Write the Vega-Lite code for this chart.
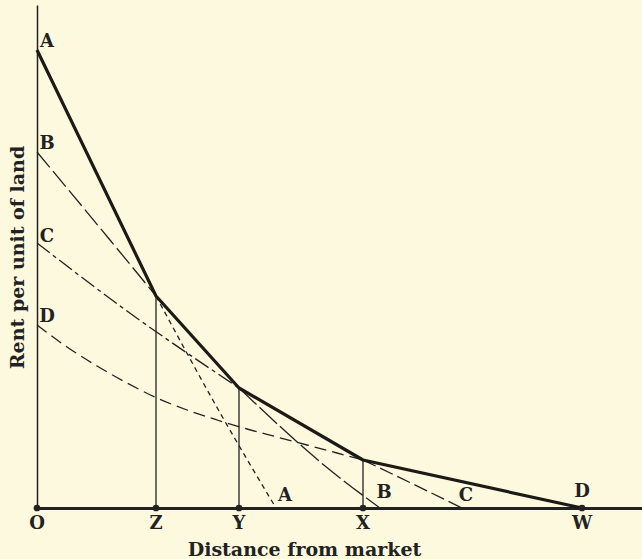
{
  "$schema": "https://vega.github.io/schema/vega-lite/v6.json",
  "width": 605,
  "height": 503,
  "autosize": {"type": "none"},
  "padding": {"left": 37, "top": 5, "right": 0, "bottom": 51},
  "background": "#fdf9de",
  "config": {"view": {"stroke": null}, "font": "DejaVu Serif"},
  "datasets": {
    "env": [
      {"x": 0, "y": 458}, {"x": 119, "y": 212}, {"x": 202, "y": 120}, {"x": 326, "y": 48}, {"x": 545, "y": 0}
    ],
    "lines": [
      {"seg": "Apost", "x": 119, "y": 212}, {"seg": "Apost", "x": 186, "y": 90}, {"seg": "Apost", "x": 239, "y": 0},
      {"seg": "Bpre", "x": 0, "y": 356}, {"seg": "Bpre", "x": 73, "y": 268}, {"seg": "Bpre", "x": 119, "y": 212},
      {"seg": "Bpost", "x": 202, "y": 120}, {"seg": "Bpost", "x": 293, "y": 38}, {"seg": "Bpost", "x": 343, "y": 0},
      {"seg": "Cpre", "x": 0, "y": 265}, {"seg": "Cpre", "x": 90, "y": 197}, {"seg": "Cpre", "x": 202, "y": 120},
      {"seg": "Cpost", "x": 326, "y": 48}, {"seg": "Cpost", "x": 376, "y": 24}, {"seg": "Cpost", "x": 425, "y": 0},
      {"seg": "Dpre", "x": 0, "y": 183}, {"seg": "Dpre", "x": 30, "y": 161}, {"seg": "Dpre", "x": 60, "y": 142},
      {"seg": "Dpre", "x": 90, "y": 125}, {"seg": "Dpre", "x": 120, "y": 110}, {"seg": "Dpre", "x": 150, "y": 98},
      {"seg": "Dpre", "x": 180, "y": 88}, {"seg": "Dpre", "x": 210, "y": 79}, {"seg": "Dpre", "x": 240, "y": 71},
      {"seg": "Dpre", "x": 270, "y": 63}, {"seg": "Dpre", "x": 300, "y": 55}, {"seg": "Dpre", "x": 326, "y": 48}
    ],
    "verts": [
      {"x": 119, "y": 0, "y2": 212}, {"x": 202, "y": 0, "y2": 120}, {"x": 326, "y": 0, "y2": 48}
    ],
    "pts": [
      {"x": 0, "y": 0, "lab": "O"}, {"x": 119, "y": 0, "lab": "Z"}, {"x": 202, "y": 0, "lab": "Y"},
      {"x": 326, "y": 0, "lab": "X"}, {"x": 545, "y": 0, "lab": "W"}
    ],
    "labs": [
      {"x": 0, "y": -16, "lab": "O"}, {"x": 119, "y": -16, "lab": "Z"}, {"x": 202, "y": -16, "lab": "Y"},
      {"x": 326, "y": -16, "lab": "X"}, {"x": 545, "y": -16, "lab": "W"},
      {"x": 10, "y": 466, "lab": "A"}, {"x": 10, "y": 364, "lab": "B"}, {"x": 10, "y": 271, "lab": "C"}, {"x": 10, "y": 191, "lab": "D"},
      {"x": 248, "y": 12, "lab": "A"}, {"x": 347, "y": 15, "lab": "B"}, {"x": 429, "y": 12, "lab": "C"}, {"x": 545, "y": 16, "lab": "D"}
    ]
  },
  "encoding": {
    "x": {"field": "x", "type": "quantitative",
      "scale": {"domain": [0, 605], "nice": false, "zero": false},
      "axis": {"title": "Distance from market", "domainColor": "#222", "domainWidth": 3, "ticks": false, "labels": false, "grid": false,
        "titleFont": "DejaVu Serif", "titleFontSize": 19, "titleFontWeight": "bold", "titleColor": "#222",
        "titleX": 267, "titleY": 47, "titleBaseline": "alphabetic"}},
    "y": {"field": "y", "type": "quantitative",
      "scale": {"domain": [0, 503], "nice": false, "zero": false},
      "axis": {"title": "Rent per unit of land", "domainColor": "#222", "domainWidth": 1.5, "ticks": false, "labels": false, "grid": false,
        "titleFont": "DejaVu Serif", "titleFontSize": 19, "titleFontWeight": "bold", "titleColor": "#222",
        "titleX": -20, "titleY": 252, "titleAngle": 270, "titleBaseline": "middle"}}
  },
  "layer": [
    {"data": {"name": "verts"}, "mark": {"type": "rule", "color": "#222", "strokeWidth": 1.3}, "encoding": {"y2": {"field": "y2"}}},
    {"data": {"name": "lines"}, "transform": [{"filter": "datum.seg == 'Apost'"}], "mark": {"type": "line", "color": "#222", "strokeWidth": 1.3, "strokeDash": [5, 4], "interpolate": "monotone"}},
    {"data": {"name": "lines"}, "transform": [{"filter": "datum.seg == 'Bpre'"}], "mark": {"type": "line", "color": "#222", "strokeWidth": 1.3, "strokeDash": [20, 5], "interpolate": "monotone"}},
    {"data": {"name": "lines"}, "transform": [{"filter": "datum.seg == 'Bpost'"}], "mark": {"type": "line", "color": "#222", "strokeWidth": 1.3, "strokeDash": [24, 4], "interpolate": "monotone"}},
    {"data": {"name": "lines"}, "transform": [{"filter": "datum.seg == 'Cpre'"}], "mark": {"type": "line", "color": "#222", "strokeWidth": 1.3, "strokeDash": [16, 4, 4, 4], "interpolate": "monotone"}},
    {"data": {"name": "lines"}, "transform": [{"filter": "datum.seg == 'Cpost'"}], "mark": {"type": "line", "color": "#222", "strokeWidth": 1.3, "strokeDash": [14, 5], "interpolate": "monotone"}},
    {"data": {"name": "lines"}, "transform": [{"filter": "datum.seg == 'Dpre'"}], "mark": {"type": "line", "color": "#222", "strokeWidth": 1.3, "strokeDash": [12, 6], "interpolate": "monotone"}},
    {"data": {"name": "env"}, "mark": {"type": "line", "color": "#1c1a16", "strokeWidth": 3.2, "strokeJoin": "round"}},
    {"data": {"name": "pts"}, "mark": {"type": "circle", "color": "#222", "opacity": 1, "size": 45}},
    {"data": {"name": "labs"}, "mark": {"type": "text", "font": "DejaVu Serif", "fontWeight": "bold", "fontSize": 18, "color": "#222", "align": "center", "baseline": "middle"}, "encoding": {"text": {"field": "lab"}}}
  ]
}
